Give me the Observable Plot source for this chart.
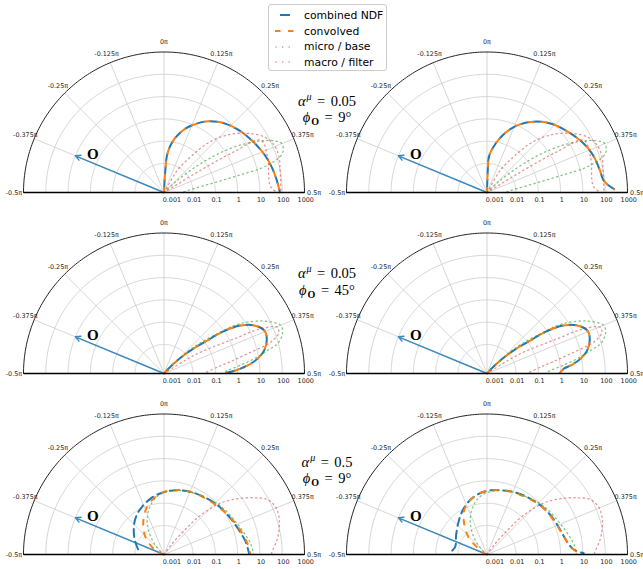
<!DOCTYPE html>
<html><head><meta charset="utf-8">
<script src="https://cdn.jsdelivr.net/npm/d3@7"></script>
<script src="https://cdn.jsdelivr.net/npm/@observablehq/plot@0.6"></script>
<style>
html,body{margin:0;padding:0;background:#fff}
body{width:643px;height:569px;overflow:hidden;position:relative;font-family:"DejaVu Sans",sans-serif;-webkit-font-smoothing:antialiased}
.panel{position:absolute}
.ann{position:absolute;left:257px;width:140px;height:14px;text-align:center;font-family:"Liberation Serif","Times New Roman",serif;font-size:14.5px;color:#000;line-height:14px;transform:translateY(-50%);white-space:nowrap}
.ann .sup{font-size:10px;position:relative;top:-6px;margin-left:1px}
.ann .sub{font-size:10px;position:relative;top:3px;font-weight:bold;font-style:normal;margin-left:1px}
.ann .eq{margin:0 0.38em}
#legend{position:absolute;left:268px;top:4px;width:119px;height:67px;border:1px solid #cccccc;border-radius:3px;background:rgba(255,255,255,0.85);box-sizing:border-box}
.lrow{position:absolute;left:0;height:14px;transform:translateY(-50%);display:flex;align-items:center;font-size:10.8px;color:#000;white-space:nowrap}
.lrow svg{margin-left:6px;margin-right:10px}
</style></head><body>
<script>
// ---------------- data (theta in degrees, value r) ----------------
const radialTicks = [0.001, 0.01, 0.1, 1, 10, 100, 1000];
const radialTickLabels = ["0.001", "0.01", "0.1", "1", "10", "100", "1000"];
const gridRings = [0.01, 0.1, 1, 10, 100];
const angleTicks = [-0.5, -0.375, -0.25, -0.125, 0, 0.125, 0.25, 0.375, 0.5]; // multiples of pi
const angleTickLabels = ["-0.5π", "-0.375π", "-0.25π", "-0.125π", "0π", "0.125π", "0.25π", "0.375π", "0.5π"];
const seriesNames = ["combined NDF", "convolved", "micro / base", "macro / filter"];
const rowAlpha = ["0.05", "0.05", "0.5"];
const rowPhi = ["9°", "45°", "9°"];
const arrowO = {theta: -0.375, r: 10};      // theta in pi
const labelO = {theta: -0.343, r: 2.1, text: "O"};

// top row (alpha 0.05, phi 9deg)
const tlCombined = [[1,0.0005],[2.5,0.001],[3.5,0.005],[5,0.028],[10.5,0.126],[17.5,0.45],[24,1.1],[31.5,2.8],[39,5.6],[45,8.5],[51.5,12.6],[59,18.6],[65,25.7],[70.5,34.7],[75.5,43.7],[80,52.5],[84.5,63],[89.7,78]];
const tlConvolved = [[1,0.0005],[2.5,0.001],[3.5,0.005],[5,0.028],[10.5,0.126],[17.5,0.45],[24,1.1],[31.5,2.8],[39,5.6],[45,8.5],[51.5,12.6],[59,18.6],[65,25.7],[70.5,34.7],[75.5,43.7],[80,52.5],[84.5,63],[89.7,78]];
const trCombined = [[1,0.0005],[2,0.0052],[3.2,0.021],[9.2,0.072],[15.6,0.24],[22.8,0.81],[30.4,2.24],[37.6,5.0],[45.1,9.8],[53.2,17.4],[60.5,30],[66.5,44.7],[72.5,59],[78.8,72],[83.6,87],[86.5,138],[88.5,250]];
const trConvolved = [[1,0.0005],[2,0.0052],[3.2,0.021],[9.2,0.072],[15.6,0.24],[22.8,0.81],[30.4,2.24],[37.6,5.0],[45.1,9.8],[53.2,17.4],[60.5,30],[66.5,44.7],[72.5,59],[78.8,72],[83.6,87],[86.5,138],[88.5,250]];
const topMicro = [[45,0.0005],[47,0.0025],[50,0.016],[53,0.16],[56,1.4],[59,8.9],[62,42],[64.5,126],[67,250],[70,250],[72.5,160],[74.5,56],[76,15],[76.8,2.5],[77.8,0.42],[79.3,0.071],[82.4,0.012],[86,0.005],[90,0.003]];
const topMacro = [[28,0.0005],[30.5,0.001],[31,0.0076],[36.8,0.051],[41.5,0.44],[47.8,3.5],[54.7,19.3],[60.9,69],[66.7,119],[72.8,126],[79.1,100],[85,89],[90,80],[87,31],[71,41],[61.6,43],[59.8,2.2],[58.7,0.044],[57,0.0005]];

// middle row (alpha 0.05, phi 45deg)
const mlCombined = [[40,0.0005],[42.3,0.00087],[45.7,0.0035],[49.2,0.0195],[52.7,0.143],[54.8,1.0],[58,5.8],[61.9,19],[66.7,39],[71.3,36.7],[77,20.4],[81.1,8.7],[84.5,2.9],[87.1,1.0],[89.5,0.3]];
const mlConvolved = [[40,0.0005],[42.3,0.00087],[45.7,0.0035],[49.2,0.0195],[52.7,0.143],[54.8,1.0],[58,5.8],[61.9,19],[66.7,39],[71.3,36.7],[77,20.4],[81.1,8.7],[84.5,2.9],[87.1,1.0],[89.5,0.3]];
const mrCombined = [[40,0.0005],[42.3,0.00087],[45.7,0.0035],[49.2,0.0195],[52.7,0.143],[54.8,1.0],[58,5.8],[61.9,19],[66.7,39],[71.3,36.7],[77,20.4],[81.1,8.7],[84,3.5],[86.5,1.4],[89.5,0.93]];
const mrConvolved = [[40,0.0005],[42.3,0.00087],[45.7,0.0035],[49.2,0.0195],[52.7,0.143],[54.8,1.0],[58,5.8],[61.9,19],[66.7,39],[71.3,36.7],[77,20.4],[81.1,8.7],[84,3.5],[86.5,1.4],[89.5,0.93]];
const midMicro = [[42,0.0005],[45,0.0025],[48,0.025],[51,0.126],[52.8,0.34],[55.6,3.2],[58.4,12.6],[62.4,59],[67.6,229],[71.5,200],[75.3,91],[77.5,28],[80.7,6.3],[84,1.26],[87.3,0.35],[90,0.2]];
const midMacro = [[55,0.0005],[58,0.0063],[59.8,0.042],[63.7,1.6],[65.2,30],[67.8,155],[70.5,141],[73.6,49],[76.7,3.5],[80,0.5],[83.2,0.13],[90,0.03]];

// bottom row (alpha 0.5, phi 9deg)
const blCombined = [[-88.5,0.0059],[-66.5,0.0126],[-51.3,0.0275],[-38.5,0.0575],[-27,0.102],[-13.5,0.19],[0,0.32],[11.8,0.44],[23.2,0.56],[34.9,0.70],[47.4,0.91],[61.9,1.26],[72.3,1.74],[81.4,2.57],[89.6,3.3]];
const blConvolved = [[-75,0.0005],[-71.6,0.0008],[-57.8,0.0022],[-46.6,0.0071],[-35.5,0.02],[-25.4,0.054],[-16.5,0.12],[-6.4,0.23],[3,0.36],[14.6,0.48],[26.1,0.59],[38.4,0.69],[51.1,0.93],[65.2,1.48],[75.2,2.19],[82.7,2.99],[89.6,3.67]];
const brCombined = [[-89,0.027],[-77,0.0148],[-58.2,0.0214],[-41.2,0.0437],[-27,0.102],[-13.1,0.224],[0,0.355],[11.8,0.44],[23.2,0.56],[34.9,0.70],[47.4,0.91],[60.1,1.17],[71.9,1.48],[81.2,2.19],[86.9,4.0],[89.2,11]];
const brConvolved = [[-70,0.0005],[-68,0.00076],[-53,0.0021],[-46.6,0.0071],[-36.5,0.0266],[-27.3,0.085],[-17.2,0.176],[-6.2,0.30],[6,0.40],[17.5,0.49],[35.2,0.66],[49.3,0.92],[63,1.16],[74.6,1.58],[83,2.51],[88.5,5.6],[89.6,9.3]];
const botMicro = [[-55,0.0005],[-51,0.00066],[-42.8,0.0019],[-34.7,0.007],[-26.1,0.026],[-16.5,0.085],[-6.6,0.21],[6,0.37],[20.3,0.52],[37.9,0.74],[51.3,1.15],[65.7,1.72],[76.9,2.95],[84.1,4.4],[89.6,5.1]];
const botMacro = [[34,0.0005],[37,0.002],[39.5,0.008],[41,0.025],[42.3,0.087],[44.6,0.3],[47.8,1.38],[52.8,6.9],[57.8,30],[62,89],[67,138],[72,133],[77.4,98],[82.9,63],[87.9,37],[90,32]];

// ---------------- layout & styles ----------------
const R_MIN_LOG = -3.3, R_MAX_LOG = 3;          // radial log range
const RD = R_MAX_LOG - R_MIN_LOG;               // decades
const PXR = 140.5;                               // outer radius in px
const W = 323, H = 182, CX = 163.5, CY = 165;    // panel svg and center
const rho = r => Math.max(0, Math.log10(r) - R_MIN_LOG);
const px = (tDeg, r) => rho(r) * Math.sin(tDeg * Math.PI / 180);
const py = (tDeg, r) => rho(r) * Math.cos(tDeg * Math.PI / 180);

const styles = [
  {stroke: "#1f77b4", strokeWidth: 2, strokeDasharray: "8 5", strokeDashoffset: 8, strokeOpacity: 1},
  {stroke: "#ff7f0e", strokeWidth: 2, strokeDasharray: "5 8", strokeDashoffset: 0, strokeOpacity: 1},
  {stroke: "#2ca02c", strokeWidth: 1.3, strokeDasharray: "1.3 3.4", strokeDashoffset: 0, strokeOpacity: 0.6},
  {stroke: "#d62728", strokeWidth: 1.3, strokeDasharray: "1.3 3.4", strokeDashoffset: 0, strokeOpacity: 0.5}
];

const panels = [
  {cx: 163.5, cy: 192.3, series: [tlCombined, tlConvolved, topMicro, topMacro]},
  {cx: 486.6, cy: 192.3, series: [trCombined, trConvolved, topMicro, topMacro]},
  {cx: 163.4, cy: 373.2, series: [mlCombined, mlConvolved, midMicro, midMacro]},
  {cx: 486.7, cy: 373.2, series: [mrCombined, mrConvolved, midMicro, midMacro]},
  {cx: 163.4, cy: 554.2, series: [blCombined, blConvolved, botMicro, botMacro]},
  {cx: 486.7, cy: 554.2, series: [brCombined, brConvolved, botMicro, botMacro]}
];

function makePanel(p) {
  const ringPts = gridRings.flatMap(r => d3.range(-90, 90.5, 1).map(t => ({r, t})));
  const outerPts = d3.range(-90, 90.5, 1);
  const spokes = angleTicks.filter(a => Math.abs(a) < 0.5);
  const marks = [
    Plot.line(ringPts, {x: d => px(d.t, d.r), y: d => py(d.t, d.r), z: "r", stroke: "#cbcbcb", strokeWidth: 0.8}),
    Plot.link(spokes, {x1: 0, y1: 0, x2: a => RD * Math.sin(a * Math.PI), y2: a => RD * Math.cos(a * Math.PI), stroke: "#cbcbcb", strokeWidth: 0.8}),
    Plot.arrow([arrowO], {x1: 0, y1: 0, x2: d => px(d.theta * 180, d.r), y2: d => py(d.theta * 180, d.r), stroke: "#3b88be", strokeWidth: 1.4, headLength: 6, headAngle: 55}),
    Plot.text([labelO], {x: d => px(d.theta * 180, d.r), y: d => py(d.theta * 180, d.r), text: "text", fontSize: 15, fontWeight: "bold", fontFamily: "Liberation Serif, serif", fill: "#000"})
  ];
  p.series.forEach((s, i) => {
    const st = styles[i];
    marks.push(Plot.line(s, {x: d => px(d[0], d[1]), y: d => py(d[0], d[1]), curve: "catmull-rom", ...st}));
  });
  marks.push(
    Plot.line(outerPts, {x: t => px(t, 1000), y: t => py(t, 1000), stroke: "#222", strokeWidth: 1}),
    Plot.link([0], {x1: -RD, y1: 0, x2: RD, y2: 0, stroke: "#000", strokeWidth: 1.4}),
    Plot.text(angleTicks, {x: a => (RD + 0.43) * Math.sin(a * Math.PI), y: a => (RD + 0.43) * Math.cos(a * Math.PI), text: (a, i) => angleTickLabels[i], fontSize: 6.4, fill: "#222", fontFamily: "DejaVu Sans"}),
    Plot.text(radialTicks, {x: r => rho(r), y: 0, dy: 7.6, dx: 1.2, text: (r, i) => radialTickLabels[i], fontSize: 6.4, fill: "#222", fontFamily: "DejaVu Sans"})
  );
  const svg = Plot.plot({
    width: W, height: H, margin: 0,
    x: {domain: [-RD, RD], range: [CX - PXR, CX + PXR], axis: null},
    y: {domain: [0, RD], range: [CY, CY - PXR], axis: null},
    style: {background: "transparent", overflow: "visible", maxWidth: "none"},
    marks
  });
  const div = document.createElement("div");
  div.className = "panel";
  div.style.left = (p.cx - CX) + "px";
  div.style.top = (p.cy - CY) + "px";
  div.appendChild(svg);
  document.body.appendChild(div);
}
panels.forEach(makePanel);

// annotations
const annY = [[100.5, 117.3], [272.5, 290.3], [461.8, 478.3]];
rowAlpha.forEach((a, i) => {
  const l1 = document.createElement("div");
  l1.className = "ann"; l1.style.top = annY[i][0] + "px";
  l1.innerHTML = `<i>α</i><i class="sup">μ</i><span class="eq">=</span>${a}`;
  const l2 = document.createElement("div");
  l2.className = "ann"; l2.style.top = annY[i][1] + "px";
  l2.innerHTML = `<i>ϕ</i><span class="sub">O</span><span class="eq">=</span>${rowPhi[i]}`;
  document.body.appendChild(l1); document.body.appendChild(l2);
});

// legend
const leg = document.createElement("div");
leg.id = "legend";
const rowY = [10, 26, 41.5, 57];
seriesNames.forEach((name, i) => {
  const st = styles[i];
  const row = document.createElement("div");
  row.className = "lrow"; row.style.top = rowY[i] + "px";
  const ns = "http://www.w3.org/2000/svg";
  const s = document.createElementNS(ns, "svg");
  s.setAttribute("width", 19); s.setAttribute("height", 6);
  const ln = document.createElementNS(ns, "line");
  ln.setAttribute("x1", 0); ln.setAttribute("x2", 19); ln.setAttribute("y1", 3); ln.setAttribute("y2", 3);
  ln.setAttribute("stroke", st.stroke); ln.setAttribute("stroke-width", st.strokeWidth);
  ln.setAttribute("stroke-opacity", st.strokeOpacity);
  ln.setAttribute("stroke-dasharray", i === 0 ? "10 9" : (i === 1 ? "5.5 7.5" : "1.3 5.2"));
  ln.setAttribute("stroke-dashoffset", i === 0 ? 14 : (i === 1 ? 0 : -0.5));
  s.appendChild(ln);
  row.appendChild(s);
  row.appendChild(document.createTextNode(name));
  leg.appendChild(row);
});
document.body.appendChild(leg);
</script>
</body></html>
